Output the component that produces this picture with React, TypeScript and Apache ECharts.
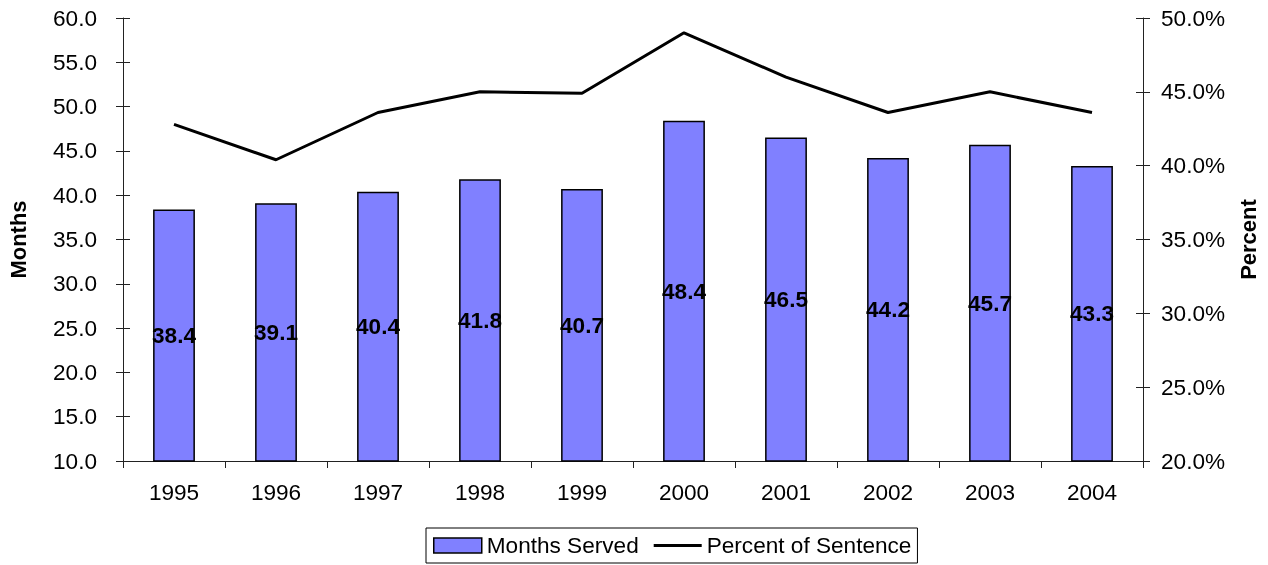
import React, { useEffect, useRef } from "react";
import * as echarts from "echarts";

const years = ["1995", "1996", "1997", "1998", "1999", "2000", "2001", "2002", "2003", "2004"];
const monthsServed = [38.4, 39.1, 40.4, 41.8, 40.7, 48.4, 46.5, 44.2, 45.7, 43.3];
const percentOfSentence = [42.8, 40.4, 43.6, 45.0, 44.9, 49.0, 46.0, 43.6, 45.0, 43.6];

const FONT = "'Liberation Sans', Arial, sans-serif";
const FS = 22.6;

export default function App() {
  const ref = useRef<HTMLDivElement>(null);
  useEffect(() => {
    if (!ref.current) return;
    const chart = echarts.init(ref.current, undefined, { renderer: "svg" });
    const axisLine = { show: true, lineStyle: { color: "#222", width: 1 } };
    chart.setOption({
      animation: false,
      textStyle: { fontFamily: FONT },
      grid: { left: 123, right: 125, top: 18, height: 443, containLabel: false, outerBoundsMode: "none" },
      legend: {
        top: 528,
        left: 426,
        borderColor: "#000",
        borderWidth: 1,
        padding: [6, 6, 6, 7],
        itemGap: 15,
        itemWidth: 48,
        itemHeight: 15,
        itemTextGap: 5,
        symbolKeepAspect: true,
        textStyle: { fontSize: FS, color: "#000", fontFamily: FONT },
        data: [
          { name: "Months Served", icon: "rect", itemStyle: { color: "#8080FF", borderColor: "#000", borderWidth: 1.5 } },
          { name: "Percent of Sentence", icon: "path://M0,0H48V3H0Z", itemStyle: { color: "#000", borderWidth: 0 } },
        ],
      },
      xAxis: {
        type: "category",
        data: years,
        boundaryGap: true,
        axisLine,
        axisTick: { show: true, alignWithLabel: false, length: 7, lineStyle: { color: "#222" } },
        axisLabel: { fontSize: FS, color: "#000", margin: 20, fontFamily: FONT },
      },
      yAxis: [
        {
          type: "value",
          min: 10,
          max: 60,
          interval: 5,
          position: "left",
          name: "Months",
          nameLocation: "middle",
          nameRotate: 90,
          nameGap: 94,
          nameTextStyle: { fontSize: 22, fontWeight: "bold", color: "#000", fontFamily: FONT },
          axisLine,
          axisTick: { show: true, length: 7, lineStyle: { color: "#222" } },
          axisLabel: { fontSize: FS, color: "#000", margin: 26, fontFamily: FONT, formatter: (v: number) => v.toFixed(1) },
          splitLine: { show: false },
        },
        {
          type: "value",
          min: 20,
          max: 50,
          interval: 5,
          position: "right",
          name: "Percent",
          nameLocation: "middle",
          nameRotate: 90,
          nameGap: 94,
          nameTextStyle: { fontSize: 22, fontWeight: "bold", color: "#000", fontFamily: FONT },
          axisLine,
          axisTick: { show: true, length: 7, lineStyle: { color: "#222" } },
          axisLabel: { fontSize: FS, color: "#000", margin: 18, fontFamily: FONT, formatter: (v: number) => v.toFixed(1) + "%" },
          splitLine: { show: false },
        },
        {
          type: "value",
          min: 10,
          max: 60,
          interval: 5,
          position: "left",
          axisLine: { show: false },
          axisTick: { show: true, inside: true, length: 7, lineStyle: { color: "#222" } },
          axisLabel: { show: false },
          splitLine: { show: false },
        },
        {
          type: "value",
          min: 20,
          max: 50,
          interval: 5,
          position: "right",
          axisLine: { show: false },
          axisTick: { show: true, inside: true, length: 7, lineStyle: { color: "#222" } },
          axisLabel: { show: false },
          splitLine: { show: false },
        },
      ],
      series: [
        {
          name: "Months Served",
          type: "bar",
          yAxisIndex: 0,
          data: monthsServed,
          barWidth: "41%",
          itemStyle: { color: "#8080FF", borderColor: "#000", borderWidth: 1.5 },
          label: {
            show: true,
            position: "inside",
            fontSize: FS,
            fontWeight: "bold",
            color: "#000",
            fontFamily: FONT,
            formatter: (p: any) => p.value.toFixed(1),
          },
        },
        {
          name: "Percent of Sentence",
          type: "line",
          yAxisIndex: 1,
          data: percentOfSentence,
          symbol: "none",
          lineStyle: { color: "#000", width: 3 },
          itemStyle: { color: "#000" },
        },
      ],
    });
    return () => chart.dispose();
  }, []);
  return <div ref={ref} style={{ position: "fixed", left: 0, top: 0, width: 1268, height: 565 }} />;
}
